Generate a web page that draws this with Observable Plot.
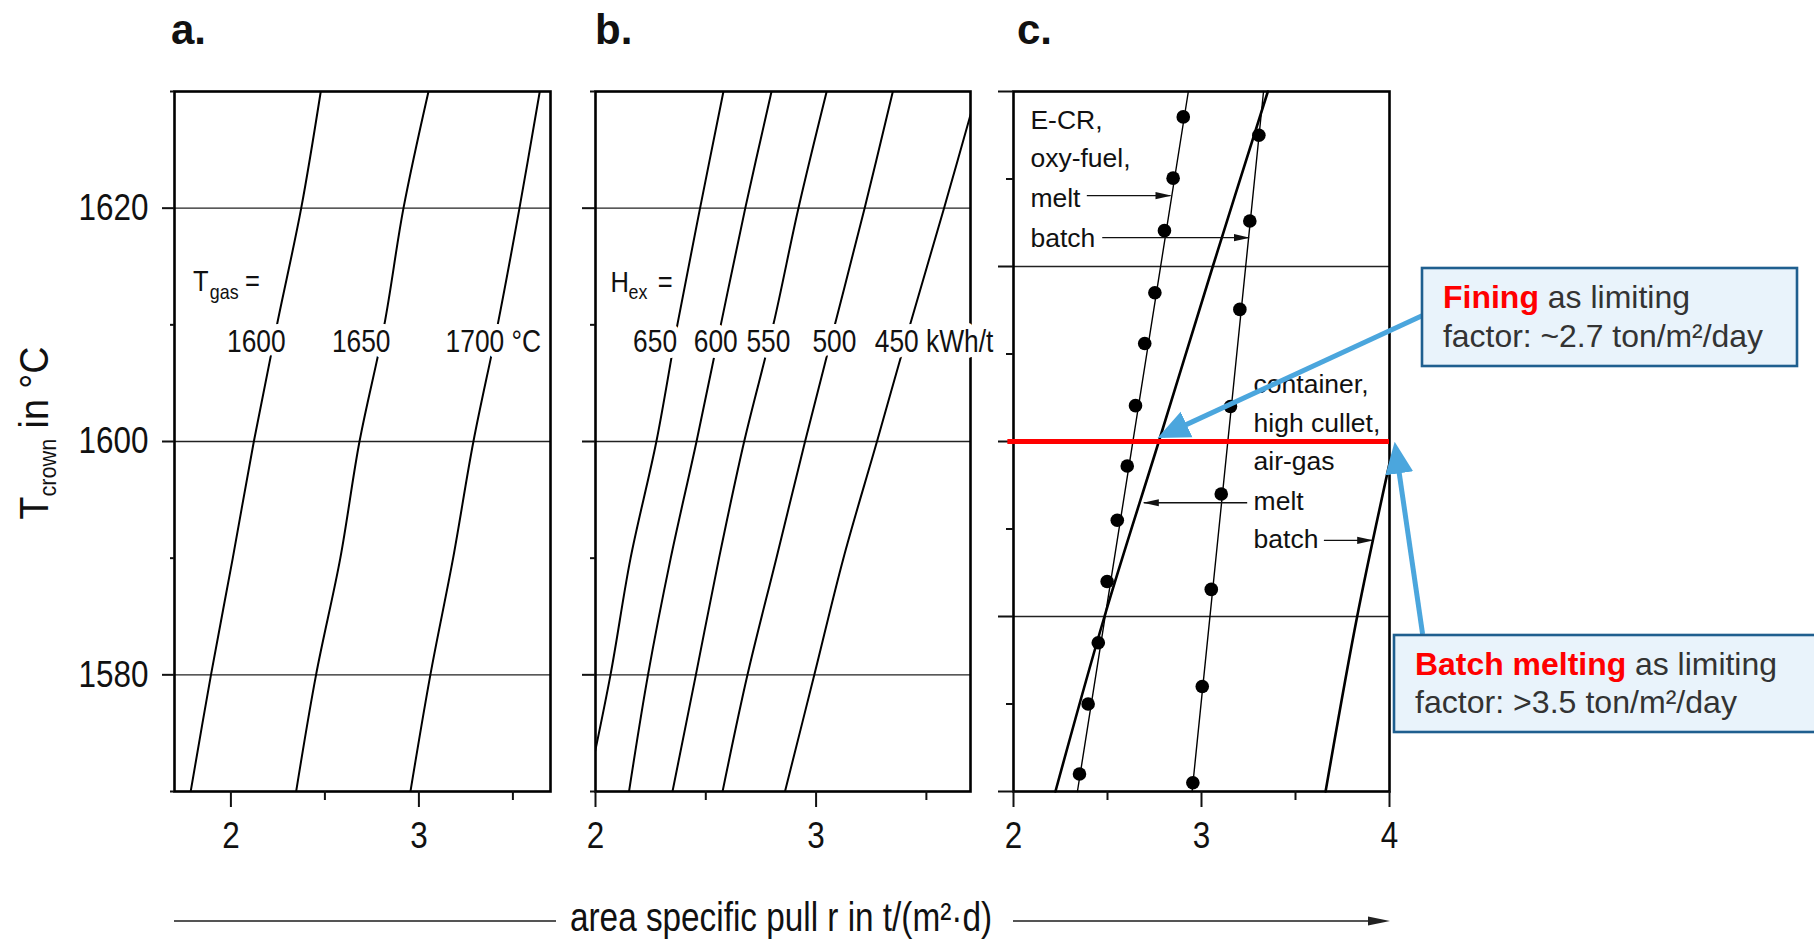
<!DOCTYPE html>
<html>
<head>
<meta charset="utf-8">
<script src="https://cdn.jsdelivr.net/npm/d3@7"></script>
<script src="https://cdn.jsdelivr.net/npm/@observablehq/plot@0.6"></script>
<style>
  html, body { margin: 0; padding: 0; background: #fff; }
  #root { position: relative; width: 1814px; height: 940px; overflow: hidden; background: #fff; }
  #root text { white-space: pre; }
</style>
</head>
<body>
<div id="root"></div>
<script>
// ================= DATA =================
// crown temperatures (°C) at which the isolines of panels a and b were read
const crownTemps = [1570, 1580, 1590, 1600, 1610, 1620, 1630];

// panel a: isolines of gas temperature, area specific pull r in t/(m²·d)
const gasTempLabels = ["1600", "1650", "1700 °C"];
const pullTgas1600 = [1.786, 1.894, 2.010, 2.122, 2.245, 2.374, 2.478];
const pullTgas1650 = [2.347, 2.453, 2.582, 2.684, 2.816, 2.918, 3.051];
const pullTgas1700 = [2.955, 3.061, 3.182, 3.290, 3.419, 3.535, 3.643];
const gasLabelPull = [2.135, 2.693, 3.396];

// panel b: isolines of exhaust heat H_ex (kWh/t)
const hexLabels = ["650", "600", "550", "500", "450 kWh/t"];
const pullHex650 = [1.960, 2.068, 2.159, 2.276, 2.371, 2.474, 2.580];
const pullHex600 = [2.152, 2.238, 2.341, 2.458, 2.568, 2.679, 2.798];
const pullHex550 = [2.349, 2.455, 2.560, 2.674, 2.806, 2.920, 3.048];
const pullHex500 = [2.576, 2.689, 2.820, 2.950, 3.085, 3.220, 3.348];
const pullHex450 = [2.859, 2.992, 3.124, 3.276, 3.426, 3.580, 3.730];
const hexLabelPull = [2.27, 2.545, 2.784, 3.083, 3.535];
const isoLabelTemp = 1607.7;

// panel c: E-CR / oxy-fuel (dots) and container / high cullet / air-gas (solid)
const ecrMeltDotTemp = [1562.0, 1570.0, 1577.0, 1584.0, 1591.0, 1597.2, 1604.1, 1611.2, 1617.0, 1624.1, 1630.1, 1637.1];
const ecrMeltDotPull = [2.351, 2.397, 2.451, 2.498, 2.552, 2.605, 2.649, 2.698, 2.752, 2.803, 2.849, 2.903];
const ecrMeltLineTemp = [1560, 1640];
const ecrMeltLinePull = [2.34, 2.93];
const ecrBatchDotTemp = [1561.0, 1572.0, 1583.1, 1594.0, 1604.0, 1615.1, 1625.2, 1635.0];
const ecrBatchDotPull = [2.954, 3.004, 3.052, 3.105, 3.154, 3.204, 3.257, 3.305];
const ecrBatchLineTemp = [1560, 1640];
const ecrBatchLinePull = [2.95, 3.33];
const contMeltTemp = [1560, 1580, 1600, 1620, 1640];
const contMeltPull = [2.223, 2.484, 2.773, 3.060, 3.353];
const contBatchTemp = [1560, 1580, 1597.5];
const contBatchPull = [3.660, 3.828, 4.000];

const ecrLabels = ["E-CR,", "oxy-fuel,", "melt", "batch"];
const ecrLabelTemp = [1635.7, 1631.4, 1626.8, 1622.2];
const ecrLabelPull = 2.09;
const contLabels = ["container,", "high cullet,", "air-gas", "melt", "batch"];
const contLabelTemp = [1605.5, 1601.1, 1596.7, 1592.2, 1587.8];
const contLabelPull = 3.277;

// pointer arrows from the labels to the curves
const pointerTemp = [1628.1, 1623.3, 1593.0, 1588.7];
const pointerFromPull = [2.390, 2.472, 3.243, 3.651];
const pointerToPull = [2.835, 3.252, 2.693, 3.908];

// limiting crown temperature and call-out arrows
const limitTemp = 1600;
const limitPullRange = [1.97, 4.0];
const calloutFromPull = [4.176, 4.176];
const calloutFromTemp = [1614.4, 1578.0];
const calloutToPull = [2.795, 4.032];
const calloutToTemp = [1600.7, 1599.3];

// axis ticks
const majorTempTicks = [1580, 1600, 1620];
const minorTempTicks = [1570, 1590, 1610, 1630];
const majorTempTicksC = [1560, 1580, 1600, 1620, 1640];
const minorTempTicksC = [1570, 1590, 1610, 1630];
const majorPullTicksAB = [2, 3];
const majorPullTicksC = [2, 3, 4];
const minorPullTicks = [2.5, 3.5];

// ================= HELPERS =================
const SANS = "'Liberation Sans', Arial, sans-serif";
const NARROW_K = 0.85;   // horizontal compression that mimics the narrow lettering of the figure
const rows = (temps, pulls, key) => temps.map((t, i) => ({t, p: pulls[i], key}));
const fmt = d3.format("d");

function headMarker(len, half, ref) {
  return (color) => {
    const m = d3.create("svg:marker")
      .attr("viewBox", `0 ${-half - 1} ${len} ${2 * half + 2}`)
      .attr("markerUnits", "userSpaceOnUse")
      .attr("markerWidth", len)
      .attr("markerHeight", 2 * half + 2)
      .attr("refX", ref)
      .attr("refY", 0)
      .attr("orient", "auto")
      .attr("fill", color)
      .attr("stroke", "none");
    m.append("path").attr("d", `M0,${-half}L${len},0L0,${half}Z`);
    return m.node();
  };
}
function safeMarker(fn) {
  try { Plot.link([{}], {x1: 0, x2: 1, y1: 0, y2: 0, markerEnd: fn}); return fn; }
  catch (e) { return "arrow"; }
}
const blackHead = safeMarker(headMarker(16, 3.6, 15));
const blueHead = safeMarker(headMarker(32, 14, 26));

function narrowText(el, k = NARROW_K) {
  const x = el.getAttribute("x");
  if (x != null) el.removeAttribute("x");
  const tr = el.getAttribute("transform") || "";
  el.setAttribute("transform", `${tr} translate(${x || 0},0) scale(${k},1)`);
}

const baseStyle = {fontFamily: SANS, fontSize: "37px", color: "#111", background: "transparent", overflow: "visible"};
const gridOpts = {stroke: "#222", strokeOpacity: 1, strokeWidth: 1.3};
const frameOpts = {stroke: "black", strokeWidth: 2.6};

function yAxes(major, minor, majorSize, minorSize, labels) {
  return [
    Plot.axisY(major, labels
      ? {tickSize: majorSize, tickPadding: 14, strokeWidth: 2, label: null, fontSize: 37, tickFormat: fmt}
      : {tickSize: majorSize, strokeWidth: 2, fill: "none", label: null}),
    Plot.axisY(minor, {tickSize: minorSize, strokeWidth: 2, fill: "none", label: null})
  ];
}
function xAxes(major) {
  return [
    Plot.axisX(major, {tickSize: 16, tickPadding: 14, strokeWidth: 2, label: null, fontSize: 37, tickFormat: fmt}),
    Plot.axisX(minorPullTicks, {tickSize: 9, strokeWidth: 2, fill: "none", label: null})
  ];
}
const isoLabelOpts = {x: "p", y: "t", text: "label", textAnchor: "middle", lineAnchor: "bottom",
  fontSize: 31, fill: "#111", stroke: "white", strokeWidth: 12};
const symOpts = (size) => ({x: "p", y: "t", text: "label", textAnchor: "start", lineAnchor: "bottom",
  fontSize: size, fill: "#111"});

// ================= PANEL a =================
const aLines = [
  ...rows(crownTemps, pullTgas1600, "1600"),
  ...rows(crownTemps, pullTgas1650, "1650"),
  ...rows(crownTemps, pullTgas1700, "1700")
];
const aLabels = gasTempLabels.map((label, i) => ({label, p: gasLabelPull[i], t: isoLabelTemp}));
const plotA = Plot.plot({
  width: 570, height: 880, marginLeft: 174, marginRight: 20, marginTop: 91, marginBottom: 89,
  x: {domain: [1.7, 3.7]}, y: {domain: [1570, 1630]},
  style: baseStyle,
  marks: [
    Plot.gridY(majorTempTicks, gridOpts),
    Plot.line(aLines, {x: "p", y: "t", z: "key", stroke: "black", strokeWidth: 2, curve: "catmull-rom", clip: true}),
    Plot.frame(frameOpts),
    Plot.text(aLabels, isoLabelOpts),
    Plot.text([{label: "T", p: 1.798, t: 1612.9}], symOpts(30)),
    Plot.text([{label: "gas", p: 1.888, t: 1612.2}], symOpts(21)),
    Plot.text([{label: "=", p: 2.075, t: 1612.9}], symOpts(30)),
    ...yAxes(majorTempTicks, minorTempTicks, 12, 4, true),
    ...xAxes(majorPullTicksAB)
  ]
});

// ================= PANEL b =================
const bLines = [
  ...rows(crownTemps, pullHex650, "650"),
  ...rows(crownTemps, pullHex600, "600"),
  ...rows(crownTemps, pullHex550, "550"),
  ...rows(crownTemps, pullHex500, "500"),
  ...rows(crownTemps, pullHex450, "450")
];
const bLabels = hexLabels.map((label, i) => ({label, p: hexLabelPull[i], t: isoLabelTemp}));
const plotB = Plot.plot({
  width: 420, height: 880, marginLeft: 20, marginRight: 25, marginTop: 91, marginBottom: 89,
  x: {domain: [2, 3.7]}, y: {domain: [1570, 1630]},
  style: baseStyle,
  marks: [
    Plot.gridY(majorTempTicks, gridOpts),
    Plot.line(bLines, {x: "p", y: "t", z: "key", stroke: "black", strokeWidth: 2, curve: "catmull-rom", clip: true}),
    Plot.frame(frameOpts),
    Plot.text(bLabels, isoLabelOpts),
    Plot.text([{label: "H", p: 2.068, t: 1612.8}], symOpts(30)),
    Plot.text([{label: "ex", p: 2.150, t: 1612.2}], symOpts(21)),
    Plot.text([{label: "=", p: 2.282, t: 1612.8}], symOpts(30)),
    ...yAxes(majorTempTicks, minorTempTicks, 13, 5, false),
    ...xAxes(majorPullTicksAB)
  ]
});

// ================= PANEL c =================
const pointers = pointerTemp.map((t, i) => ({t, p1: pointerFromPull[i], p2: pointerToPull[i]}));
const callouts = calloutFromPull.map((p1, i) => ({p1, t1: calloutFromTemp[i], p2: calloutToPull[i], t2: calloutToTemp[i]}));
const cTextOpts = {x: "p", y: "t", text: "label", textAnchor: "start", lineAnchor: "bottom",
  fontSize: 26.5, fill: "#111"};
const plotC = Plot.plot({
  width: 819, height: 880, marginLeft: 18, marginRight: 425, marginTop: 91, marginBottom: 89,
  x: {domain: [2, 4]}, y: {domain: [1560, 1640]},
  style: baseStyle,
  marks: [
    Plot.gridY(majorTempTicks, gridOpts),
    Plot.line(rows(ecrMeltLineTemp, ecrMeltLinePull), {x: "p", y: "t", stroke: "black", strokeWidth: 1.4}),
    Plot.line(rows(ecrBatchLineTemp, ecrBatchLinePull), {x: "p", y: "t", stroke: "black", strokeWidth: 1.4}),
    Plot.line(rows(contMeltTemp, contMeltPull), {x: "p", y: "t", stroke: "black", strokeWidth: 2.6, curve: "catmull-rom"}),
    Plot.line(rows(contBatchTemp, contBatchPull), {x: "p", y: "t", stroke: "black", strokeWidth: 2.6, curve: "catmull-rom"}),
    Plot.dot(rows(ecrMeltDotTemp, ecrMeltDotPull), {x: "p", y: "t", r: 6.8, fill: "black", stroke: "none"}),
    Plot.dot(rows(ecrBatchDotTemp, ecrBatchDotPull), {x: "p", y: "t", r: 6.8, fill: "black", stroke: "none"}),
    Plot.text(ecrLabels.map((label, i) => ({label, p: ecrLabelPull, t: ecrLabelTemp[i]})), cTextOpts),
    Plot.text(contLabels.map((label, i) => ({label, p: contLabelPull, t: contLabelTemp[i]})), cTextOpts),
    Plot.link(pointers, {x1: "p1", x2: "p2", y1: "t", y2: "t", stroke: "#111", strokeWidth: 1.4, markerEnd: blackHead}),
    Plot.frame(frameOpts),
    ...yAxes(majorTempTicksC, minorTempTicksC, 15, 7, false),
    ...xAxes(majorPullTicksC),
    Plot.ruleY([limitTemp], {x1: limitPullRange[0], x2: limitPullRange[1], stroke: "#ff0000", strokeWidth: 5}),
    Plot.link(callouts, {x1: "p1", y1: "t1", x2: "p2", y2: "t2", stroke: "#4ba6dd", strokeWidth: 5, markerEnd: blueHead})
  ]
});

// narrow lettering of the original figure (panels a, b and all tick labels)
plotA.querySelectorAll("text").forEach((t) => narrowText(t));
plotB.querySelectorAll("text").forEach((t) => narrowText(t));
plotC.querySelectorAll('g[aria-label$="tick label"] text').forEach((t) => narrowText(t));

// ================= LAYOUT =================
const root = document.getElementById("root");
function place(node, left, top) {
  node.style.position = "absolute";
  node.style.left = left + "px";
  node.style.top = top + "px";
  root.appendChild(node);
}
place(plotA, 0, 0);
place(plotB, 575, 0);
place(plotC, 995, 0);

// overlay: panel letters, axis titles, call-out boxes
const ov = d3.create("svg").attr("width", 1814).attr("height", 940)
  .style("position", "absolute").style("left", "0px").style("top", "0px").style("pointer-events", "none");

[["a.", 171], ["b.", 595], ["c.", 1017]].forEach(([s, x]) => {
  ov.append("text").attr("x", x).attr("y", 44).attr("font-family", SANS).attr("font-weight", "bold")
    .attr("font-size", 42).attr("fill", "#111").text(s);
});

// y-axis title
const yt = ov.append("text").attr("transform", "translate(48,433) rotate(-90)")
  .attr("text-anchor", "middle").attr("font-family", SANS).attr("font-size", 40).attr("fill", "#111")
  .attr("textLength", 173).attr("lengthAdjust", "spacingAndGlyphs");
yt.append("tspan").text("T");
yt.append("tspan").attr("dy", 8).attr("font-size", 23).text("crown");
yt.append("tspan").attr("dy", -8).text(" in °C");

// x-axis title with leader line and arrow
ov.append("line").attr("x1", 174).attr("x2", 556).attr("y1", 921).attr("y2", 921).attr("stroke", "#555").attr("stroke-width", 2.2);
ov.append("line").attr("x1", 1013).attr("x2", 1372).attr("y1", 921).attr("y2", 921).attr("stroke", "#555").attr("stroke-width", 2.2);
ov.append("path").attr("d", "M1368,916.5L1390,921L1368,925.5Z").attr("fill", "#222");
ov.append("text").attr("x", 570).attr("y", 931)
  .attr("font-family", SANS).attr("font-size", 40).attr("fill", "#111")
  .attr("textLength", 422).attr("lengthAdjust", "spacingAndGlyphs")
  .text("area specific pull r in t/(m²·d)");

// call-out boxes
function callout(x, y, w, h, tx, b1, b2, len1, len2, strong, rest, line2) {
  const g = ov.append("g");
  g.append("rect").attr("x", x).attr("y", y).attr("width", w).attr("height", h)
    .attr("fill", "#e9f3fb").attr("stroke", "#1f5f8f").attr("stroke-width", 2.6);
  const t1 = g.append("text").attr("x", tx).attr("y", b1).attr("font-family", SANS).attr("font-size", 32).attr("fill", "#333")
    .attr("textLength", len1).attr("lengthAdjust", "spacingAndGlyphs");
  t1.append("tspan").attr("fill", "#ff0000").attr("font-weight", "bold").text(strong);
  t1.append("tspan").text(rest);
  g.append("text").attr("x", tx).attr("y", b2).attr("font-family", SANS).attr("font-size", 32).attr("fill", "#333")
    .attr("textLength", len2).attr("lengthAdjust", "spacingAndGlyphs").text(line2);
}
callout(1422, 268, 375, 98, 1443, 308, 347, 247, 320, "Fining", " as limiting", "factor: ~2.7 ton/m²/day");
callout(1394, 635, 440, 97, 1415, 675, 713, 362, 322, "Batch melting", " as limiting", "factor: >3.5 ton/m²/day");

root.appendChild(ov.node());
</script>
</body>
</html>
